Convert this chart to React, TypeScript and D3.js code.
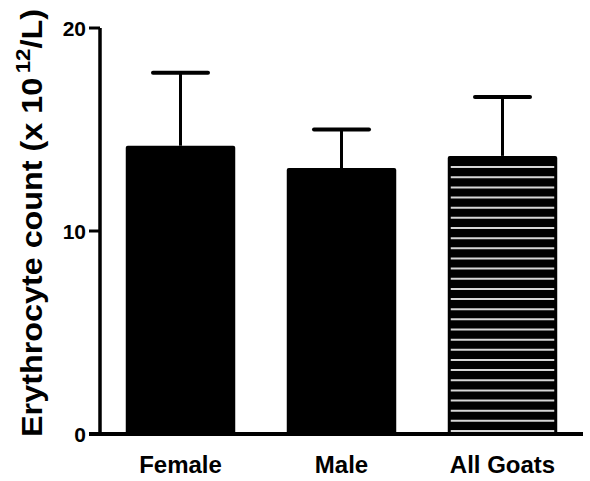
import React from "react";
import * as d3 from "d3";

const categories = ["Female", "Male", "All Goats"];
const means = [14.2, 13.1, 13.7];
const upperErrors = [17.8, 15.0, 16.6];
const yTicks = [0, 10, 20];
const yTitle = "Erythrocyte count (x 10";
const yTitleSup = "12";
const yTitleEnd = "/L)";

const W = 590;
const H = 481;
const FONT = "'Liberation Sans', Arial, sans-serif";

export default function App() {
  const y = d3.scaleLinear().domain([0, 20]).range([434, 28]);
  const x = d3
    .scaleBand<string>()
    .domain(categories)
    .range([100, 583])
    .paddingInner(0.32)
    .paddingOuter(0.16);
  const bw = x.bandwidth();
  const capW = 55;

  const stripeStep = 10.15;
  const stripes: number[] = [];
  const allX = x("All Goats")!;
  const allTop = y(means[2]);
  for (let s = y(0) - 3; s > allTop + 8; s -= stripeStep) stripes.push(s);

  return (
    <svg
      width={W}
      height={H}
      style={{ position: "absolute", left: 0, top: 0, background: "#fff" }}
      fontFamily={FONT}
    >
      <rect width={W} height={H} fill="#fff" />
      {/* error bars */}
      {categories.map((c, i) => {
        const cx = x(c)! + bw / 2;
        return (
          <g key={"e" + c}>
            <line
              x1={cx}
              x2={cx}
              y1={y(means[i])}
              y2={y(upperErrors[i])}
              stroke="#000"
              strokeWidth={3}
            />
            <line
              x1={cx - capW / 2}
              x2={cx + capW / 2}
              y1={y(upperErrors[i])}
              y2={y(upperErrors[i])}
              stroke="#000"
              strokeWidth={4}
              strokeLinecap="round"
            />
          </g>
        );
      })}
      {/* bars */}
      {categories.map((c, i) => (
        <rect
          key={"b" + c}
          x={x(c)!}
          y={y(means[i])}
          width={bw}
          height={y(0) - y(means[i])}
          fill="#000"
          rx={2}
        />
      ))}
      {/* stripes on All Goats */}
      {stripes.map((s, k) => (
        <line
          key={"s" + k}
          x1={allX + 3}
          x2={allX + bw - 3}
          y1={s}
          y2={s}
          stroke="#d6d6d6"
          strokeWidth={2}
        />
      ))}
      {/* axes */}
      <line x1={100} x2={100} y1={y(20)} y2={y(0) + 2} stroke="#000" strokeWidth={3.5} />
      <line x1={89} x2={583} y1={y(0)} y2={y(0)} stroke="#000" strokeWidth={4} />
      {yTicks.map((t) => (
        <g key={"t" + t}>
          <line x1={89} x2={100} y1={y(t)} y2={y(t)} stroke="#000" strokeWidth={3} />
          <text
            x={86}
            y={y(t)}
            dy="0.36em"
            textAnchor="end"
            fontSize={21}
            fontWeight="bold"
            fill="#000"
          >
            {t}
          </text>
        </g>
      ))}
      {categories.map((c) => (
        <text
          key={"l" + c}
          x={x(c)! + bw / 2}
          y={473}
          textAnchor="middle"
          fontSize={24}
          fontWeight="bold"
          fill="#000"
        >
          {c}
        </text>
      ))}
      <text
        transform="translate(42,223) rotate(-90)"
        textAnchor="middle"
        fontSize={29}
        fontWeight="bold"
        fill="#000"
        textLength={428}
        lengthAdjust="spacingAndGlyphs"
      >
        {yTitle}
        <tspan fontSize={20} dy={-12} dx={4}>
          {yTitleSup}
        </tspan>
        <tspan dy={12}>{yTitleEnd}</tspan>
      </text>
    </svg>
  );
}
